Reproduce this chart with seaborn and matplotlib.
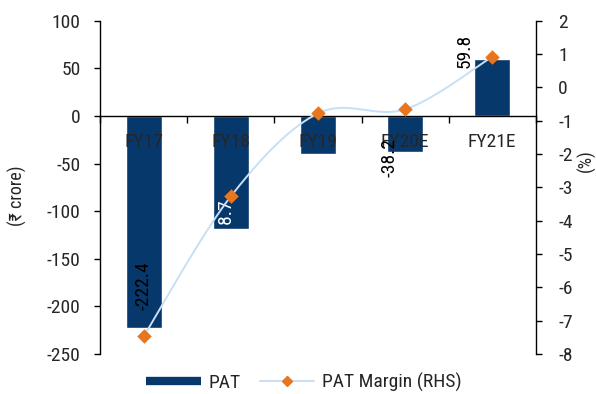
import numpy as np
import pandas as pd
import matplotlib
matplotlib.use("Agg")
import matplotlib.pyplot as plt
from matplotlib.lines import Line2D
import seaborn as sns

# Data
years = ["FY17", "FY18", "FY19", "FY20E", "FY21E"]
pat = [-222.4, -118.7, -40.4, -38.2, 59.8]          # PAT, Rs crore
pat_margin = [-7.47, -3.27, -0.78, -0.66, 0.92]      # PAT margin, %

NAVY = "#06386b"
ORANGE = "#e8761e"
LIGHT = "#c6e0f7"

sns.set_theme(style="white")
plt.rcParams["font.family"] = ["Roboto Condensed", "DejaVu Sans"]
plt.rcParams["axes.unicode_minus"] = False
FS = 14

df = pd.DataFrame({"year": years, "pat": pat, "margin": pat_margin})

fig = plt.figure(figsize=(5.96, 3.94), dpi=100)
ax = fig.add_axes([0.168, 0.1015, 0.731, 0.846])
ax.set_axisbelow(False)

sns.barplot(data=df, x="year", y="pat", color=NAVY, width=0.41,
            saturation=1, ax=ax, zorder=2)

ax.set_xlim(-0.5, 4.5)
ax.set_ylim(-250, 100)
ax.set_yticks(np.arange(-250, 101, 50))
ax.set_xlabel("")
ax.set_ylabel("(₹ crore)", fontsize=FS - 1)
ax.yaxis.set_label_coords(-0.168, 0.475)

for s in ("top", "right"):
    ax.spines[s].set_visible(False)
for s in ("left", "bottom"):
    ax.spines[s].set_color("black")
    ax.spines[s].set_linewidth(1.0)
ax.spines["bottom"].set_position(("data", 0))
ax.spines["bottom"].set_zorder(3)

ax.tick_params(axis="y", direction="out", length=4, width=1, color="black",
               labelsize=FS, pad=10, left=True)
ax.set_xticks(np.arange(len(years)))
ax.set_xticklabels(years)
ax.set_xticks(np.arange(-0.5, len(years)), minor=True)
ax.tick_params(axis="x", which="major", length=0, labelsize=FS, pad=12)
ax.tick_params(axis="x", which="minor", direction="out", length=5, width=1,
               color="black", bottom=True)

# Value labels, rotated, placed around each bar end: (dx, dy) in points
label_style = [
    ((0, 30), "center", "black"),
    ((-3, 4), "center", "white"),
    ((0, 0), "bottom", "white"),
    ((-11, -4), "center", "black"),
    ((-20, 6), "center", "black"),
]
for i, v in enumerate(pat):
    (dx, dy), va, col = label_style[i]
    ypos = 0 if va == "bottom" else v
    ax.annotate(f"{v:.1f}", xy=(i, ypos), xytext=(dx, dy),
                textcoords="offset points", rotation=90, ha="center",
                va=va, fontsize=FS, color=col, zorder=4)

# Margin on secondary axis, smoothed line through the points
ax2 = ax.twinx()
ax2.set_ylim(-8, 2)
ax2.set_yticks(np.arange(-8, 3, 1))

x = np.arange(len(years), dtype=float)
y = np.asarray(pat_margin, dtype=float)
P = np.column_stack([x, y])
Pext = np.vstack([P[0], P, P[-1]])
t = np.linspace(0, 1, 40)[:, None]
curve = []
for k in range(len(P) - 1):
    p0, p3 = Pext[k + 1], Pext[k + 2]
    c1 = p0 + (Pext[k + 2] - Pext[k]) / 6
    c2 = p3 - (Pext[k + 3] - Pext[k + 1]) / 6
    seg = ((1 - t) ** 3) * p0 + 3 * ((1 - t) ** 2) * t * c1 \
        + 3 * (1 - t) * t ** 2 * c2 + t ** 3 * p3
    curve.append(seg)
curve = np.vstack(curve)
ax2.plot(curve[:, 0], curve[:, 1], color=LIGHT, lw=1.4, zorder=3)
sns.scatterplot(x=x, y=y, marker="D", s=55, color=ORANGE, edgecolor=ORANGE,
                linewidth=0, ax=ax2, zorder=5)

ax2.set_xlim(-0.5, 4.5)
for s in ("top", "left", "bottom"):
    ax2.spines[s].set_visible(False)
ax2.spines["right"].set_color("black")
ax2.spines["right"].set_linewidth(1.0)
ax2.tick_params(axis="y", direction="out", length=4, width=1, color="black",
                labelsize=FS, pad=12, right=True)
ax2.set_ylabel("(%)", fontsize=FS - 1, rotation=90)
ax2.yaxis.set_label_coords(1.095, 0.58)
ax2.grid(False)
ax.grid(False)

handles = [
    Line2D([], [], color=NAVY, lw=6, solid_capstyle="butt"),
    Line2D([], [], color=LIGHT, lw=1.4, marker="D", markersize=5,
           markerfacecolor=ORANGE, markeredgecolor=ORANGE),
]
fig.legend(handles, ["PAT", "PAT Margin (RHS)"], loc="lower center",
           bbox_to_anchor=(0.51, -0.04), ncol=2, frameon=False,
           fontsize=FS, handlelength=2.8, columnspacing=1.0,
           handletextpad=0.4)

fig.savefig("out.png", dpi=100)
